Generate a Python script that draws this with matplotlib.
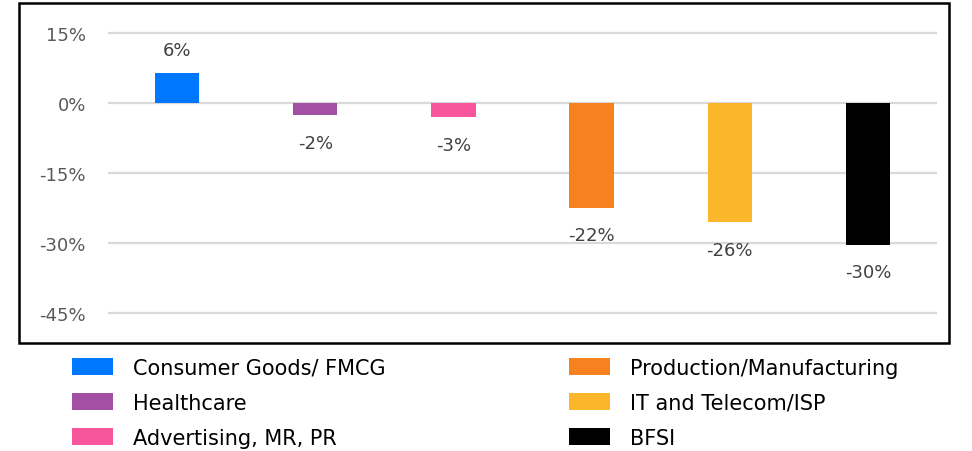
import matplotlib
matplotlib.use("Agg")
import matplotlib.pyplot as plt
from matplotlib.patches import Patch, Rectangle

categories = ["Consumer Goods/ FMCG", "Healthcare", "Advertising, MR, PR",
              "Production/Manufacturing", "IT and Telecom/ISP", "BFSI"]
values = [6.4, -2.6, -3.0, -22.4, -25.6, -30.4]
value_labels = ["6%", "-2%", "-3%", "-22%", "-26%", "-30%"]
colors = ["#0077FF", "#A34FA3", "#F7559C", "#F5821F", "#FBB62A", "#000000"]
yticks = [15, 0, -15, -30, -45]
ytick_labels = ["15%", "0%", "-15%", "-30%", "-45%"]

W, H = 972, 452
fig = plt.figure(figsize=(W / 100, H / 100), dpi=100)

def fx(px):
    return px / W

def fy(py):
    return 1 - py / H

# plot area
ax = fig.add_axes([fx(108), fy(344), fx(937) - fx(108), fy(4) - fy(344)])
ax.set_xlim(-0.5, 5.5)
ax.set_ylim(-51.43, 21.43)
for s in ax.spines.values():
    s.set_visible(False)
ax.set_yticks(yticks)
ax.set_yticklabels(ytick_labels, fontsize=13, color="#595959")
ax.tick_params(axis="y", length=0, pad=16)
ax.set_xticks([])
for t in yticks:
    ax.axhline(t, color="#D9D9D9", linewidth=1.6, zorder=0)

x = list(range(len(categories)))
ax.bar(x, values, width=0.32, color=colors, zorder=2)
for xi, v, lab in zip(x, values, value_labels):
    off = 16.6 if v >= 0 else -19.8
    ax.annotate(lab, (xi, v), xytext=(0, off), textcoords="offset points",
                ha="center", va="center", fontsize=13, color="#404040")

# outer frame
fig.patches.append(Rectangle((fx(19), fy(344)), fx(949) - fx(19), fy(4) - fy(344),
                             transform=fig.transFigure, fill=False,
                             edgecolor="black", linewidth=1.8))

handles = [Patch(facecolor=c, edgecolor="none") for c in colors]
common = dict(frameon=False, fontsize=15, handlelength=1.97, handleheight=0.9,
              handletextpad=0.95, labelspacing=0.71, borderpad=0, borderaxespad=0,
              loc="upper left")
leg1 = fig.legend(handles[:3], categories[:3], bbox_to_anchor=(fx(72), fy(359)), **common)
leg2 = fig.legend(handles[3:], categories[3:], bbox_to_anchor=(fx(569), fy(359)), **common)

fig.savefig("out.png", dpi=100)
